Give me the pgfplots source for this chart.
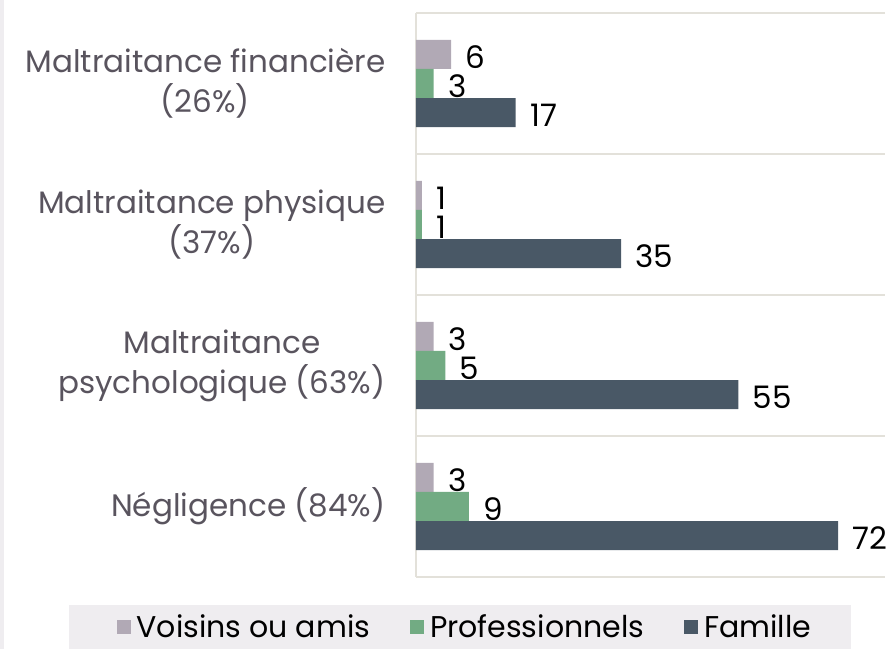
\documentclass[border=0pt]{standalone}
\usepackage{pgfplots}
\pgfplotsset{compat=1.18}
\usepackage{fontspec}
\setmainfont{Poppins}
\definecolor{cVoisins}{HTML}{B1A9B5}
\definecolor{cPro}{HTML}{72AB83}
\definecolor{cFam}{HTML}{495866}
\definecolor{cGrid}{HTML}{E3E1DA}
\definecolor{cLab}{HTML}{59545E}
\definecolor{cBack}{HTML}{EFEDF0}
\begin{document}
\begin{tikzpicture}[x=1pt,y=1pt]
% page = 892 x 649, axis lower left at (416,577) px from top left
\path[use as bounding box] (-416,-72) rectangle (476,577);
\fill[cBack] (-416,-72) rectangle (-412,577);
\fill[cBack] (-347,-72) rectangle (435,-28);
\begin{axis}[
  at={(0,0)}, anchor=south west,
  scale only axis, width=469pt, height=564pt,
  xbar,
  xmin=0, xmax=80, ymin=-0.5, ymax=3.5,
  bar width=0.206,
  axis x line=none, axis y line*=left,
  axis line style={cGrid, line width=1.5pt},
  ytick={0,1,2,3},
  yticklabels={Négligence (84\%), {Maltraitance\\psychologique (63\%)}, {Maltraitance physique\\(37\%)}, {Maltraitance financière\\(26\%)}},
  yticklabel style={align=center, text=cLab, font=\fontsize{31}{40}\selectfont, xshift=-27pt},
  major tick length=0pt, minor tick length=0pt,
  minor ytick={-0.5,0.5,1.5,2.5,3.5},
  yminorgrids=true,
  minor grid style={cGrid, line width=1.5pt},
  nodes near coords,
  nodes near coords style={font=\fontsize{31}{31}\selectfont, text=black, anchor=west,
    xshift=11pt, yshift=-3pt, /pgf/number format/assume math mode=true},
  legend columns=-1,
  legend style={at={(0.1045,-0.0887)}, anchor=center, draw=none, fill=none,
    font=\fontsize{30}{30}\selectfont,
    /tikz/every odd column/.append style={column sep=4pt},
    /tikz/every even column/.append style={column sep=38pt}},
  legend image code/.code={\fill[#1] (0pt,-7pt) rectangle (14pt,7pt);},
]
\addplot[fill=cVoisins, draw=none, bar shift=0.206] coordinates {(3,0) (3,1) (1,2) (6,3)};
\addplot[fill=cPro, draw=none, bar shift=0] coordinates {(9,0) (5,1) (1,2) (3,3)};
\addplot[fill=cFam, draw=none, bar shift=-0.206] coordinates {(72,0) (55,1) (35,2) (17,3)};
\legend{Voisins ou amis, Professionnels, Famille}
\end{axis}
\end{tikzpicture}
\end{document}
